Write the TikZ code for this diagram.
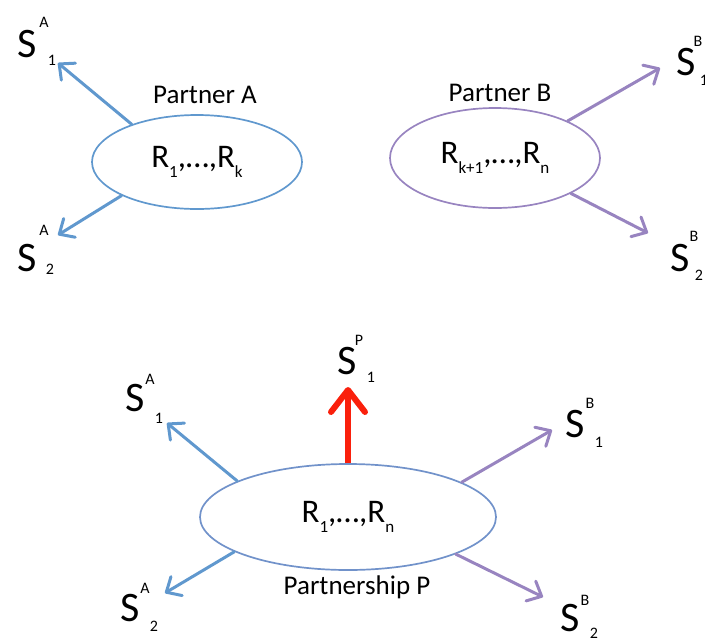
\documentclass[tikz,border=0pt]{standalone}
\usepackage{fontspec}
\setmainfont{Carlito}
\usetikzlibrary{arrows.meta,shapes.geometric}
\definecolor{ablue}{RGB}{96,152,206}
\definecolor{bpurple}{RGB}{152,132,192}
\definecolor{pred}{RGB}{250,32,12}
\newcommand{\rsub}[1]{\raisebox{-0.3em}{\fontsize{17}{17}\selectfont #1}}
\tikzset{
  ellA/.style={ellipse, draw=ablue, line width=1.7pt, inner sep=0pt},
  ellB/.style={ellipse, draw=bpurple, line width=1.7pt, inner sep=0pt},
  arrA/.style={draw=ablue, line width=3pt, line cap=round, -{Straight Barb[length=12pt,width=22pt,line cap=round,round]}},
  arrB/.style={draw=bpurple, line width=3pt, line cap=round, -{Straight Barb[length=12pt,width=22pt,line cap=round,round]}},
  arrP/.style={draw=pred, line width=6pt, -{Straight Barb[length=22pt,width=34pt,line cap=round,round]}},
  sym/.style={inner sep=0pt, font=\fontsize{42}{44}\selectfont},
  idx/.style={inner sep=0pt, font=\fontsize{16}{17}\selectfont},
  lab/.style={inner sep=0pt, font=\fontsize{27}{29}\selectfont},
  rtxt/.style={font=\fontsize{33}{34}\selectfont}
}
\begin{document}
\begin{tikzpicture}[x=1pt,y=-1pt]
\useasboundingbox (0,0) rectangle (705,641);
% top left: partner A
\node[ellA, minimum width=210pt, minimum height=94pt, rtxt] (EA) at (197,162) {R\rsub{1},…,R\rsub{k}};
\node[lab] (LA) at (205,95) {Partner A};
\coordinate (tA1) at (58,63);
\coordinate (tA2) at (58,235);
\draw[arrA] (EA.150) -- (tA1);
\draw[arrA] (EA.204) -- (tA2);
\node[sym] (SA1) at (27,44) {S};
\node[idx] (SA1u) at (44,22) {A};
\node[idx] (SA1d) at (52,60) {1};
\node[sym] (SA2) at (27,258) {S};
\node[idx] (SA2u) at (44,230) {A};
\node[idx] (SA2d) at (50,269) {2};
% top right: partner B
\node[ellB, minimum width=210pt, minimum height=100pt, rtxt] (EB) at (495,158) {R\rsub{k+1},…,R\rsub{n}};
\node[lab] (LB) at (500,93) {Partner B};
\coordinate (tB1) at (660,68);
\coordinate (tB2) at (648,233);
\draw[arrB] (EB.27) -- (tB1);
\draw[arrB] (EB.-25) -- (tB2);
\node[sym] (SB1) at (686,62) {S};
\node[idx] (SB1u) at (698,41) {B};
\node[idx] (SB1d) at (704,80) {1};
\node[sym] (SB2) at (680,258) {S};
\node[idx] (SB2u) at (694,236) {B};
\node[idx] (SB2d) at (699,275) {2};
% bottom: partnership P
\node[ellA, draw=ablue!70!bpurple, minimum width=296pt, minimum height=106pt, rtxt] (EP) at (348,517) {R\rsub{1},…,R\rsub{n}};
\node[lab] (LP) at (357,587) {Partnership P};
\coordinate (tP) at (348,387);
\coordinate (tPA1) at (167,423);
\coordinate (tPA2) at (165,593);
\coordinate (tPB1) at (552,430);
\coordinate (tPB2) at (543,597);
\draw[arrP] (EP.90) -- (tP);
\draw[arrA] (EP.162) -- (tPA1);
\draw[arrA] (EP.197) -- (tPA2);
\draw[arrB] (EP.17) -- (tPB1);
\draw[arrB] (EP.-19) -- (tPB2);
\node[sym] (SP1) at (347,361) {S};
\node[idx] (SP1u) at (359,340) {P};
\node[idx] (SP1d) at (371,377) {1};
\node[sym] (SPA1) at (135,398) {S};
\node[idx] (SPA1u) at (150,379) {A};
\node[idx] (SPA1d) at (159,418) {1};
\node[sym] (SPA2) at (130,608) {S};
\node[idx] (SPA2u) at (145,588) {A};
\node[idx] (SPA2d) at (154,626) {2};
\node[sym] (SPB1) at (575,424) {S};
\node[idx] (SPB1u) at (590,403) {B};
\node[idx] (SPB1d) at (599,442) {1};
\node[sym] (SPB2) at (570,618) {S};
\node[idx] (SPB2u) at (585,600) {B};
\node[idx] (SPB2d) at (594,633) {2};
\end{tikzpicture}
\end{document}
